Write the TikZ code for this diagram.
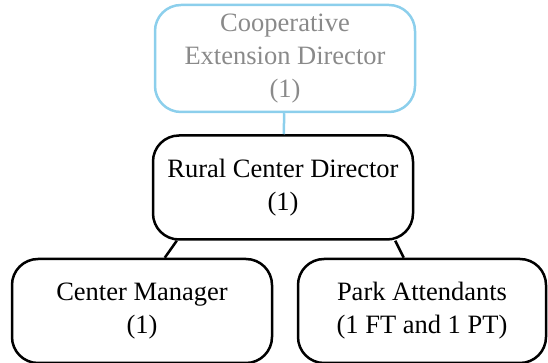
\documentclass[tikz,border=0pt]{standalone}
\usepackage{fontspec}
\setmainfont{Liberation Serif}
\usepackage{xcolor}
\usetikzlibrary{positioning}
\definecolor{orgblue}{RGB}{140,207,236}
\definecolor{orggray}{RGB}{138,138,138}

\begin{document}
\begin{tikzpicture}[x=1pt, y=1pt, node distance=17pt]
\tikzstyle{block} = [rectangle, draw, line width=2.5pt, rounded corners=26pt, align=center, minimum width=260pt, minimum height=104pt, font=\fontsize{26.5}{33}\selectfont]
\tikzstyle{line} = [draw, line width=2.5pt]
\useasboundingbox (0,0) rectangle (548,363);
\node [block, draw=orgblue, text=orggray, minimum height=107pt] (ced) at (285,304.5) {Cooperative\\Extension Director\\(1)};
\node [block, below=21pt of ced, xshift=-2pt] (rcd) {Rural Center Director\\(1)};
\node [block, below=17pt of rcd, xshift=-141pt] (cm) {Center Manager\\(1)};
\node [block, below=17pt of rcd, xshift=139pt, minimum width=248pt] (pa) {Park Attendants\\(1 FT and 1 PT)};
\path [line, draw=orgblue] (ced) -- (rcd);
\path [line] ([xshift=25pt]rcd.south west) -- ([xshift=154pt]cm.north west);
\path [line] ([xshift=-19pt]rcd.south east) -- ([xshift=107pt]pa.north west);
\end{tikzpicture}
\end{document}
